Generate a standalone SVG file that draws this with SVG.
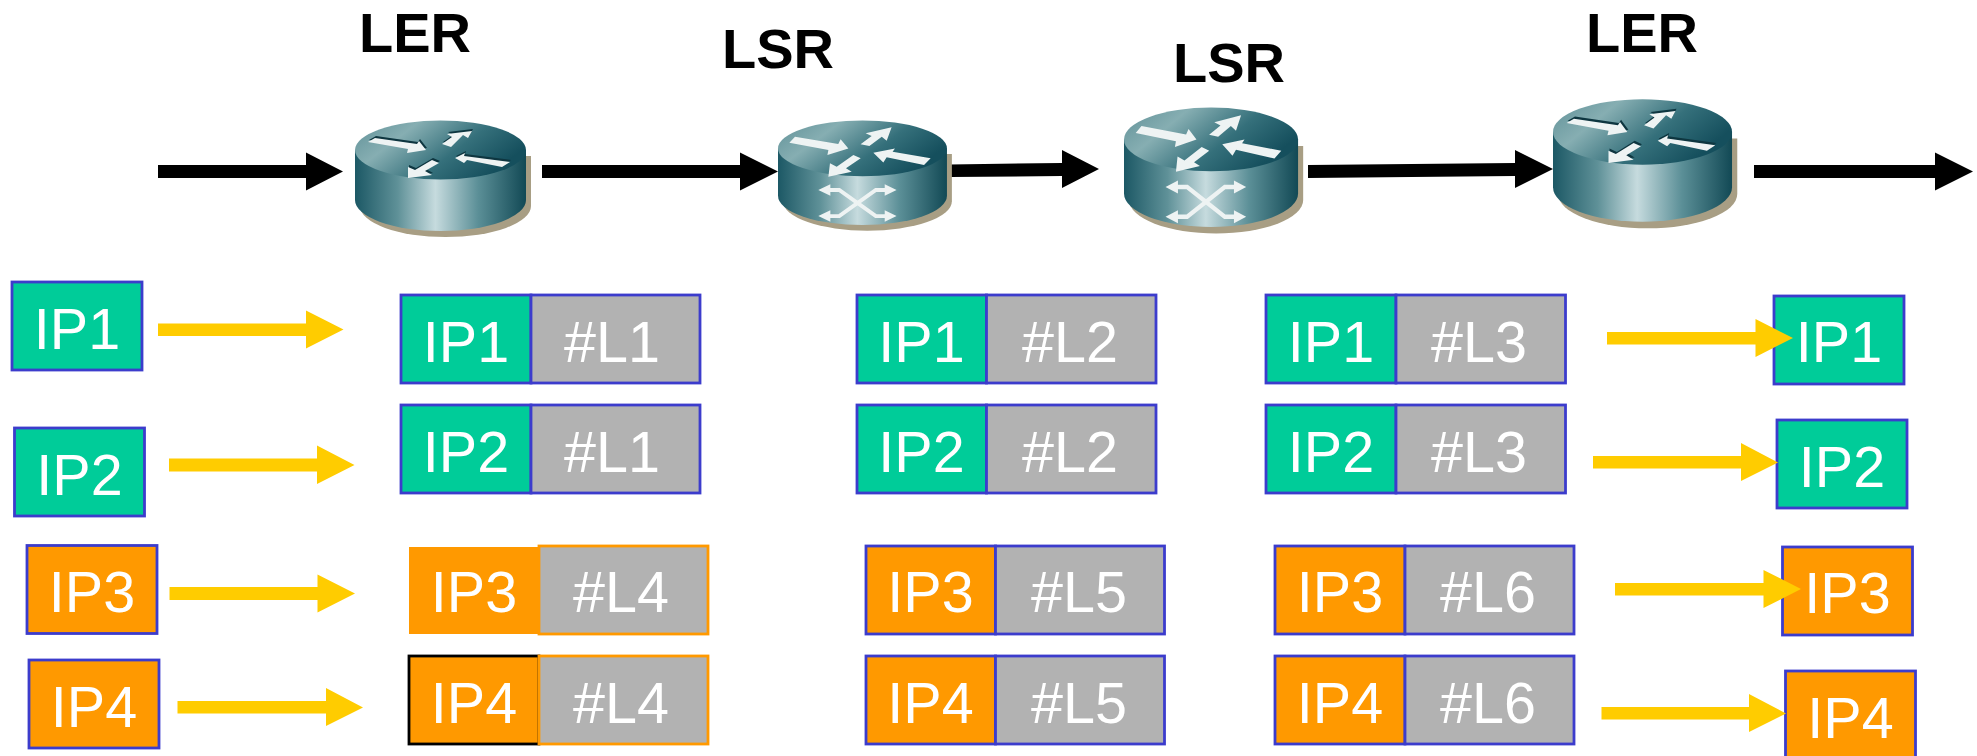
<svg xmlns="http://www.w3.org/2000/svg" width="1977" height="756" viewBox="0 0 1977 756">
<style>
text{font-family:"Liberation Sans",Arial,sans-serif}
.t{font-size:56px;font-weight:700;fill:#000;text-anchor:middle}
.l{font-size:57.500px;fill:#fff;text-anchor:middle}
.g{fill:#00cc99;stroke:#3c3ccc;stroke-width:2.800}
.o{fill:#ff9900;stroke:#3c3ccc;stroke-width:2.800}
.x{fill:#b2b2b2;stroke:#3c3ccc;stroke-width:2.800}
.xo{fill:#b2b2b2;stroke:#ff9900;stroke-width:2.800}
.on{fill:#ff9900}
.ok{fill:#ff9900;stroke:#000;stroke-width:2.800}
.k{fill:#000}
.y{fill:#ffcc00}
.wa{fill:#eef3f3}
.da{fill:#0e3640}
.xl{fill:none;stroke:#eef3f3;stroke-width:4}
</style>
<defs>
<linearGradient id="top" x1="0" y1="0" x2="1" y2="0.45">
<stop offset="0" stop-color="#5f9097"/><stop offset="0.32" stop-color="#86aeb2"/><stop offset="0.68" stop-color="#35707b"/><stop offset="1" stop-color="#154f5d"/>
</linearGradient>
<linearGradient id="side" x1="0" y1="0" x2="1" y2="0">
<stop offset="0" stop-color="#1c5865"/><stop offset="0.25" stop-color="#5f9198"/><stop offset="0.47" stop-color="#c6dbde"/><stop offset="0.72" stop-color="#5b8f97"/><stop offset="1" stop-color="#124955"/>
</linearGradient>
<g id="body">
<path fill="#a89e84" d="M5 36V86A85.500 31 0 0 0 176 86V36Z"/>
<path fill="url(#side)" d="M0 30V80A85.500 31 0 0 0 171 80V30Z"/>
<ellipse cx="85.500" cy="30" rx="85.500" ry="29.500" fill="url(#top)"/>
</g>
<path id="thin-a" d="M13 22 20 18 62 24 64 21 71 30 52 33 53 29Z M87 24 97 17 92 14 117 11 113 18 108 15 96 27Z M100 38 110 33 109 36 155 42 147 47 112 40 109 43Z M77 40 84 43 70 51 77 55 53 58 53 47 60 50Z"/>
<g id="thin">
<use href="#thin-a" class="da" transform="translate(1 -2)"/>
<use href="#thin-a" class="wa"/>
</g>
<g id="bold">
<path class="wa" d="M11.500 24 17.200 17.600 61 25.400 63.400 20.400 71.200 30 50 37 51 31.700Z M83.600 25.700 94.800 17 88.700 14 115 7.700 110 21.900 105 17.600 92.500 27.500Z M96.500 34.500 118.400 30 116 33.500 154.500 40.500 147.800 47.600 110 39.500 106.600 45Z M76.300 37 83.700 40.500 68.800 51 74.600 54.600 51 60 52.600 45.800 59.400 49.400Z"/>
<path class="xl" d="M48 74H62L99 101.500H112 M48 101.500H62L99 74H112"/>
<path class="wa" d="M40.800 74 53 68V80Z M120 74 108 68V80Z M40.800 101.500 53 95.500V107.500Z M120 101.500 108 95.500V107.500Z"/>
</g>
</defs>

<g id="connectors">
<path class="k" d="M158 165H306V152.500L343 171.500 306 190.500V178H158Z"/>
<path class="k" d="M542 165H740V152.500L778 171.500 740 190.500V178H542Z"/>
<path class="k" d="M950 164.500 1062 163V150L1099 169 1062 188V176L950 177Z"/>
<path class="k" d="M1308 165 1515 163V150L1553 169 1515 188V176L1308 178Z"/>
<path class="k" d="M1754 165H1935V152.500L1973 171.500 1935 190.500V178H1754Z"/>
<path class="y" d="M158 323.500H306V310.500L343.500 329.500 306 348.500V336H158Z"/>
<path class="y" d="M169 458.500H317V445.500L354.500 465 317 484V471.500H169Z"/>
<path class="y" d="M169.500 587H317.500V574.500L355 593.500 317.500 612.500V600H169.500Z"/>
<path class="y" d="M177.500 701H326V688L363 707.500 326 726V713.500H177.500Z"/>
</g>

<g id="router-ler-1"><text class="t" x="415" y="52">LER</text><g transform="translate(355 120)"><use href="#body"/><use href="#thin"/></g></g>
<g id="router-lsr-1"><text class="t" x="778" y="68">LSR</text><g transform="translate(778 120) scale(.988 .946)"><use href="#body"/><use href="#bold"/></g></g>
<g id="router-lsr-2"><text class="t" x="1229" y="82">LSR</text><g transform="translate(1124 107) scale(1.018 1.081)"><use href="#body"/><use href="#bold"/></g></g>
<g id="router-ler-2"><text class="t" x="1642" y="52">LER</text><g transform="translate(1553 98.700) scale(1.047 1.108)"><use href="#body"/><use href="#thin"/></g></g>

<g id="in-ip1"><rect class="g" x="12" y="282" width="130" height="88"/><text class="l" x="77" y="349">IP1</text></g>
<g id="in-ip2"><rect class="g" x="14.500" y="428" width="130" height="88"/><text class="l" x="79.500" y="495">IP2</text></g>
<g id="in-ip3"><rect class="o" x="27" y="545.500" width="130" height="88"/><text class="l" x="92" y="612">IP3</text></g>
<g id="in-ip4"><rect class="o" x="29" y="660" width="130" height="88"/><text class="l" x="94" y="727">IP4</text></g>

<g id="c1-r1"><rect class="g" x="401" y="295" width="130" height="88"/><rect class="x" x="531" y="295" width="169" height="88"/><text class="l" x="466" y="362">IP1</text><text class="l" x="612" y="362">#L1</text></g>
<g id="c1-r2"><rect class="g" x="401" y="405" width="130" height="88"/><rect class="x" x="531" y="405" width="169" height="88"/><text class="l" x="466" y="472">IP2</text><text class="l" x="612" y="472">#L1</text></g>
<g id="c1-r3"><rect class="on" x="409" y="547" width="130" height="87"/><rect class="xo" x="539" y="546" width="169" height="88"/><text class="l" x="474" y="612">IP3</text><text class="l" x="621" y="612">#L4</text></g>
<g id="c1-r4"><rect class="ok" x="409" y="656" width="130" height="88"/><rect class="xo" x="539" y="656" width="169" height="88"/><text class="l" x="474" y="723">IP4</text><text class="l" x="621" y="723">#L4</text></g>

<g id="c2-r1"><rect class="g" x="857" y="295" width="129.500" height="88"/><rect class="x" x="986.500" y="295" width="169.500" height="88"/><text class="l" x="921.500" y="362">IP1</text><text class="l" x="1070" y="362">#L2</text></g>
<g id="c2-r2"><rect class="g" x="857" y="405" width="129.500" height="88"/><rect class="x" x="986.500" y="405" width="169.500" height="88"/><text class="l" x="921.500" y="472">IP2</text><text class="l" x="1070" y="472">#L2</text></g>
<g id="c2-r3"><rect class="o" x="866" y="546" width="129.500" height="88"/><rect class="x" x="995.500" y="546" width="169" height="88"/><text class="l" x="930.500" y="612">IP3</text><text class="l" x="1079" y="612">#L5</text></g>
<g id="c2-r4"><rect class="o" x="866" y="656" width="129.500" height="88"/><rect class="x" x="995.500" y="656" width="169" height="88"/><text class="l" x="930.500" y="723">IP4</text><text class="l" x="1079" y="723">#L5</text></g>

<g id="c3-r1"><rect class="g" x="1266" y="295" width="130" height="88"/><rect class="x" x="1396" y="295" width="169.500" height="88"/><text class="l" x="1331" y="362">IP1</text><text class="l" x="1479" y="362">#L3</text></g>
<g id="c3-r2"><rect class="g" x="1266" y="405" width="130" height="88"/><rect class="x" x="1396" y="405" width="169.500" height="88"/><text class="l" x="1331" y="472">IP2</text><text class="l" x="1479" y="472">#L3</text></g>
<g id="c3-r3"><rect class="o" x="1275" y="546" width="130" height="88"/><rect class="x" x="1405" y="546" width="169" height="88"/><text class="l" x="1340" y="612">IP3</text><text class="l" x="1488" y="612">#L6</text></g>
<g id="c3-r4"><rect class="o" x="1275" y="656" width="130" height="88"/><rect class="x" x="1405" y="656" width="169" height="88"/><text class="l" x="1340" y="723">IP4</text><text class="l" x="1488" y="723">#L6</text></g>

<g id="out-ip1"><rect class="g" x="1774" y="296" width="130" height="88"/><text class="l" x="1839" y="362">IP1</text></g>
<g id="out-ip2"><rect class="g" x="1777" y="420" width="130" height="88"/><text class="l" x="1842" y="487">IP2</text></g>
<g id="out-ip3"><rect class="o" x="1782.500" y="547" width="130" height="88"/><text class="l" x="1847.500" y="613">IP3</text></g>
<g id="out-ip4"><rect class="o" x="1785.500" y="671" width="130" height="88"/><text class="l" x="1850.500" y="738">IP4</text></g>

<g id="connectors-out">
<path class="y" d="M1607 332H1755.500V319L1793 338 1755.500 357V344.500H1607Z"/>
<path class="y" d="M1593 456H1741V443L1778 462.500 1741 481V468.500H1593Z"/>
<path class="y" d="M1615 583H1763.500V570L1801 589 1763.500 608V595.500H1615Z"/>
<path class="y" d="M1601.500 707H1749V694L1786 713.500 1749 732V719.500H1601.500Z"/>
</g>
</svg>
